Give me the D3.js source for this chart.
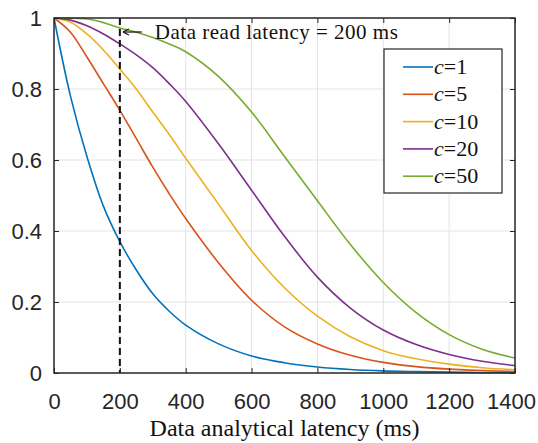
<!DOCTYPE html>
<html>
<head>
<meta charset="utf-8">
<script src="https://cdn.jsdelivr.net/npm/d3@7"></script>
<style>
  html, body { margin: 0; padding: 0; background: #fff; }
  svg { display: block; }
</style>
</head>
<body>
<div id="chart-container"></div>
<script>
// latency (ms) at which values were read
const latency = [0, 50, 100, 150, 200, 250, 300, 350, 400, 500, 600, 700, 800, 900, 1000, 1100, 1200, 1300, 1400];

const c1  = [1, 0.78, 0.61, 0.47, 0.37, 0.29, 0.223, 0.174, 0.135, 0.082, 0.048, 0.029, 0.017, 0.01, 0.006, 0.004, 0.0025, 0.0015, 0.001];
const c5  = [1, 0.96, 0.89, 0.815, 0.74, 0.66, 0.58, 0.505, 0.435, 0.31, 0.205, 0.13, 0.082, 0.05, 0.03, 0.018, 0.011, 0.007, 0.004];
const c10 = [1, 0.988, 0.955, 0.91, 0.856, 0.8, 0.735, 0.672, 0.605, 0.475, 0.345, 0.24, 0.16, 0.102, 0.063, 0.04, 0.025, 0.015, 0.009];
const c20 = [1, 0.994, 0.978, 0.955, 0.927, 0.896, 0.86, 0.815, 0.765, 0.645, 0.515, 0.385, 0.27, 0.183, 0.121, 0.08, 0.052, 0.033, 0.021];
const c50 = [1, 0.9995, 0.997, 0.987, 0.972, 0.96, 0.945, 0.927, 0.905, 0.835, 0.735, 0.61, 0.485, 0.362, 0.255, 0.17, 0.108, 0.067, 0.042];

const seriesNames = ["1", "5", "10", "20", "50"];
const seriesValues = [c1, c5, c10, c20, c50];
const colors = ["#0072BD", "#D95319", "#EDB120", "#7E2F8E", "#77AC30"];

const xTicks = [0, 200, 400, 600, 800, 1000, 1200, 1400];
const yTicks = [0, 0.2, 0.4, 0.6, 0.8, 1];
const readLatency = 200;

const width = 538, height = 443;
const margin = { top: 18, right: 23, bottom: 70, left: 54 };
const innerW = width - margin.left - margin.right;
const innerH = height - margin.top - margin.bottom;

const svg = d3.select("#chart-container").append("svg")
  .attr("width", width)
  .attr("height", height);

const g = svg.append("g").attr("transform", `translate(${margin.left},${margin.top})`);

const x = d3.scaleLinear().domain([0, 1400]).range([0, innerW]);
const y = d3.scaleLinear().domain([0, 1]).range([innerH, 0]);

const axisColor = "#262626";

// grid
g.append("g").selectAll("line").data(xTicks.slice(1, -1)).join("line")
  .attr("x1", d => x(d)).attr("x2", d => x(d))
  .attr("y1", 0).attr("y2", innerH)
  .attr("stroke", "#e3e3e3").attr("stroke-width", 1);
g.append("g").selectAll("line").data(yTicks.slice(1, -1)).join("line")
  .attr("y1", d => y(d)).attr("y2", d => y(d))
  .attr("x1", 0).attr("x2", innerW)
  .attr("stroke", "#e3e3e3").attr("stroke-width", 1);

// curves
g.append("clipPath").attr("id", "clip")
  .append("rect").attr("width", innerW).attr("height", innerH + 2).attr("y", -1);

const line = d3.line()
  .x(d => x(d[0]))
  .y(d => y(d[1]))
  .curve(d3.curveCatmullRom.alpha(0.5));

seriesValues.forEach((vals, i) => {
  g.append("path")
    .datum(latency.map((l, j) => [l, vals[j]]))
    .attr("clip-path", "url(#clip)")
    .attr("fill", "none")
    .attr("stroke", colors[i])
    .attr("stroke-width", 1.6)
    .attr("d", line);
});

// dashed marker at the read latency
g.append("line")
  .attr("x1", x(readLatency)).attr("x2", x(readLatency))
  .attr("y1", 0).attr("y2", innerH)
  .attr("stroke", "#111").attr("stroke-width", 2)
  .attr("stroke-dasharray", "7,4");

// annotation arrow + text
const ay = 14;
g.append("line")
  .attr("x1", x(readLatency) + 4).attr("x2", x(readLatency) + 22)
  .attr("y1", ay).attr("y2", ay)
  .attr("stroke", "#111").attr("stroke-width", 1.2);
g.append("path")
  .attr("d", `M${x(readLatency) + 3},${ay} l6,-3 M${x(readLatency) + 3},${ay} l6,3`)
  .attr("stroke", "#111").attr("stroke-width", 1.2).attr("fill", "none");
g.append("text")
  .attr("x", x(readLatency) + 35)
  .attr("y", ay + 7)
  .attr("font-family", "'Liberation Serif', 'Times New Roman', serif")
  .attr("font-size", 21)
  .attr("fill", "#111")
  .attr("textLength", 243)
  .attr("lengthAdjust", "spacing")
  .text("Data read latency = 200 ms");

// axes box + inward ticks
g.append("rect")
  .attr("width", innerW).attr("height", innerH)
  .attr("fill", "none").attr("stroke", axisColor).attr("stroke-width", 1.5);

const tickLen = 5;
const axisX = g.append("g").attr("transform", `translate(0,${innerH})`)
  .call(d3.axisBottom(x).tickValues(xTicks).tickSize(-tickLen).tickPadding(20).tickFormat(d => String(d)).tickSizeOuter(0));
const axisXTop = g.append("g")
  .call(d3.axisTop(x).tickValues(xTicks).tickSize(-tickLen).tickFormat("").tickSizeOuter(0));
const axisY = g.append("g")
  .call(d3.axisLeft(y).tickValues(yTicks).tickSize(-tickLen).tickPadding(12).tickFormat(d => String(+d.toFixed(1))).tickSizeOuter(0));
const axisYRight = g.append("g").attr("transform", `translate(${innerW},0)`)
  .call(d3.axisRight(y).tickValues(yTicks).tickSize(-tickLen).tickFormat("").tickSizeOuter(0));

[axisX, axisXTop, axisY, axisYRight].forEach(a => {
  a.select(".domain").remove();
  a.selectAll("line").attr("stroke", axisColor).attr("stroke-width", 1);
  a.selectAll("text")
    .attr("fill", axisColor)
    .style("font-family", "'Liberation Sans', Arial, sans-serif")
    .style("font-size", "22px");
});

// last x label sits at the right edge; pull it in so it is not cut
axisX.selectAll(".tick text").filter(d => d === 1400).attr("dx", -4);

// x axis label
svg.append("text")
  .attr("x", margin.left + innerW / 2)
  .attr("y", 436)
  .attr("text-anchor", "middle")
  .attr("font-family", "'Liberation Serif', 'Times New Roman', serif")
  .attr("font-size", 24)
  .attr("fill", "#111")
  .text("Data analytical latency (ms)");

// legend
const lg = svg.append("g");
lg.append("rect")
  .attr("x", 384).attr("y", 49).attr("width", 118).attr("height", 144)
  .attr("fill", "#fff").attr("stroke", axisColor).attr("stroke-width", 1.2);

seriesNames.forEach((name, i) => {
  const ly = 67 + i * 27.3;
  lg.append("line")
    .attr("x1", 403).attr("x2", 433)
    .attr("y1", ly).attr("y2", ly)
    .attr("stroke", colors[i]).attr("stroke-width", 1.6);
  const t = lg.append("text")
    .attr("x", 434).attr("y", ly + 7)
    .attr("font-family", "'Liberation Serif', 'Times New Roman', serif")
    .attr("font-size", 22)
    .attr("fill", "#111");
  t.append("tspan").attr("font-style", "italic").text("c");
  t.append("tspan").text("=" + name);
});
</script>
</body>
</html>
